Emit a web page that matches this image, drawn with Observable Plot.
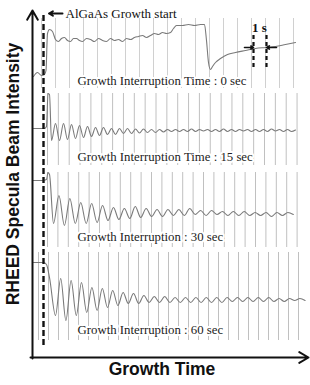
<!DOCTYPE html>
<html>
<head>
<meta charset="utf-8">
<script src="https://cdn.jsdelivr.net/npm/d3@7"></script>
<script src="https://cdn.jsdelivr.net/npm/@observablehq/plot@0.6"></script>
<style>
  html, body { margin: 0; padding: 0; background: #fff; }
  #chart svg { display: block; }
</style>
</head>
<body>
<div id="chart"></div>
<script>
// ---- Data (time in s from AlGaAs growth start, intensity in arbitrary stacked units) ----
const yLabel = "RHEED Specula Beam Intensity";
const xLabel = "Growth Time";
const startLabel = "AlGaAs Growth start";
const panelLabels = [
  "Growth Interruption Time : 0 sec",
  "Growth Interruption Time : 15 sec",
  "Growth Interruption : 30 sec",
  "Growth Interruption : 60 sec"
];

// Panel 1 (0 s interruption): irregular trace [t, intensity]
const p1Trace = [[-1.0,28.1],[-0.6,28.5],[-0.2,28.2],[0.1,28.3],[0.25,28.7],[0.4,32.4],[0.6,32.8],[0.9,32.6],[1.2,31.8],[1.5,31.6],[1.8,31.9],[2.1,32.0],[2.4,31.7],[2.7,31.6],[3.0,31.9],[3.3,31.9],[3.6,31.7],[3.9,31.6],[4.3,31.9],[4.7,31.8],[5.1,31.6],[5.5,31.9],[5.9,31.7],[6.3,31.6],[6.7,31.9],[7.1,31.7],[7.5,31.8],[7.9,31.6],[8.3,31.9],[8.7,31.8],[9.1,32.0],[9.5,32.1],[9.9,32.2],[10.3,32.0],[10.7,32.2],[11.1,32.4],[11.5,32.3],[11.9,32.5],[12.3,32.4],[12.7,32.5],[13.0,32.9],[13.3,33.2],[13.9,33.2],[14.5,33.3],[15.1,33.2],[15.7,33.3],[16.1,33.3],[16.3,31.7],[16.5,29.5],[16.7,28.8],[16.9,29.1],[17.2,29.5],[17.7,29.9],[18.4,30.3],[19.2,30.5],[20.2,30.7],[21.2,30.9],[22.2,31.0],[23.2,31.1],[24.2,31.3],[25.2,31.5]];

// Panels 2-4: lead-in [t, intensity] then oscillation extrema sampled every half period
const p2Lead = [[-1.0,22.9],[0.1,22.9],[0.3,23.1],[0.45,26.4],[0.6,26.3]];
const p2Osc = [21.7,23.4,21.7,23.4,21.8,23.3,21.9,23.2,22.0,23.1,22.1,23.0,22.2,23.0,22.3,22.9,22.3,22.9,22.4,22.9,22.4,22.85,22.45,22.85,22.5,22.8,22.5,22.8,22.55,22.8,
  22.6,22.8,22.6,22.8,22.6,22.85,22.6,22.8,22.65,22.8,22.6,22.8,22.6,22.85,22.6,22.8,22.6,22.8,22.65,22.8,22.6,22.8,22.6,22.8,22.6,22.85,22.65,22.8,22.6,22.8,22.6,22.75];
const p3Lead = [[-1.1,17.7],[-0.1,17.7],[0.3,17.8],[0.45,18.5],[0.6,18.3]];
const p3Osc = [13.4,16.2,13.2,15.9,13.4,15.5,13.4,15.4,13.5,15.2,13.7,15.0,13.8,14.9,13.9,15.1,14.0,14.9,14.1,14.8,14.1,14.8,14.2,14.8,14.2,14.9,14.3,14.7,14.2,14.7,14.3,14.6,14.2,14.6,14.2,14.6,14.2,14.5,14.2,14.5,14.1,14.5,14.2,14.5,14.3];
const p4Lead = [[-1.0,9.5],[0.0,9.5],[0.3,9.3],[0.6,8.0]];
const p4Osc = [4.2,7.9,3.7,7.7,4.2,7.5,4.5,7.0,4.7,6.9,5.0,6.7,5.2,6.5,5.4,6.4,5.4,6.2,5.5,6.1,5.5,6.1,5.5,6.0,5.5,6.0,5.5,6.0,5.5,6.0,5.5,6.0,5.5,6.0,5.6,6.0,5.6,6.0,5.6,6.0,5.6,6.0,5.6,5.9,5.6,5.9,5.7,5.9,5.7];

// oscillation sampling: [first extremum time, half period]
const oscTiming = [[0.8, 0.4], [1.0, 0.545], [1.2, 0.52]];

// chart-paper grid per panel: [first line, spacing, count, bottom, top]
const gridSpec = [
  [-0.2, 1.4, 19, 26.9, 33.9],
  [0.4, 1.085, 24, 19.2, 26.4],
  [0.4, 1.04, 25, 11.0, 18.5],
  [-0.5, 1.0, 27, 1.7, 10.5]
];
const panelLabelY = [27.7, 20.1, 12.1, 2.8];

// ---- Build ----
const xDomain = [-1.1, 26.4];
const yDomain = [0, 34.5];

function osc(lead, vals, [t0, dt]) {
  return lead.map(([t, v]) => ({t, v})).concat(vals.map((v, i) => ({t: t0 + i * dt, v})));
}
const traces = [
  p1Trace.map(([t, v]) => ({t, v})),
  osc(p2Lead, p2Osc, oscTiming[0]),
  osc(p3Lead, p3Osc, oscTiming[1]),
  osc(p4Lead, p4Osc, oscTiming[2])
];
const grid = gridSpec.flatMap(([t0, dt, n, lo, hi], p) =>
  d3.range(n).map(i => ({t: t0 + i * dt, lo, hi, p})));

const serif = "'Liberation Serif', 'Times New Roman', serif";
const sans = "'Liberation Sans', Arial, sans-serif";

const chart = Plot.plot({
  width: 310,
  height: 385,
  marginLeft: 32,
  marginRight: 3,
  marginTop: 12,
  marginBottom: 28,
  x: {domain: xDomain, axis: null},
  y: {domain: yDomain, axis: null},
  marks: [
    // chart paper grid
    Plot.ruleX(grid, {x: "t", y1: "lo", y2: "hi", stroke: d => d.p === 0 ? "#d0d0d0" : "#c0c0c0", strokeWidth: 1}),
    // traces
    ...traces.map(tr => Plot.line(tr, {x: "t", y: "v", stroke: "#7a7a7a", strokeWidth: 1.1, curve: "monotone-x"})),
    // growth start dashed line
    Plot.ruleX([0], {y1: 1.2, y2: 34.4, stroke: "#111", strokeWidth: 2.4, strokeDasharray: "6,3"}),
    // "1 s" marker
    Plot.ruleX([21.0, 22.3], {y1: 29.0, y2: 32.2, stroke: "#111", strokeWidth: 2.2, strokeDasharray: "4,3"}),
    Plot.arrow([{x1: 20.1, x2: 21.0}, {x1: 23.3, x2: 22.3}], {x1: "x1", x2: "x2", y1: () => 31.0, y2: () => 31.0, stroke: "#111", strokeWidth: 1.6, headLength: 5}),
    Plot.text(["1 s"], {x: 21.6, y: 33.0, fontFamily: serif, fontWeight: "bold", fontSize: 13, fill: "#111"}),
    // growth start annotation
    Plot.arrow([startLabel], {x1: 1.9, x2: 0.55, y1: 34.4, y2: 34.4, stroke: "#111", strokeWidth: 2, headLength: 6}),
    Plot.text([startLabel], {x: 2.2, y: 34.4, textAnchor: "start", fontFamily: serif, fontSize: 13, fill: "#111"}),
    // panel labels
    Plot.text(panelLabels, {x: 3.4, y: (d, i) => panelLabelY[i], textAnchor: "start", fontFamily: serif, fontSize: 12.8, fill: "#222", stroke: "white", strokeWidth: 4}),
    // axes with arrows
    Plot.arrow([yLabel], {x1: xDomain[0], x2: xDomain[0], y1: -0.1, y2: 34.7, stroke: "#111", strokeWidth: 2, headLength: 8}),
    Plot.arrow([xLabel], {x1: -1.3, x2: 26.5, y1: 0, y2: 0, stroke: "#111", strokeWidth: 2, headLength: 8}),
    Plot.text([yLabel], {frameAnchor: "left", textAnchor: "middle", rotate: -90, dx: -19, dy: -11, fontFamily: sans, fontWeight: "bold", fontSize: 17.5, fill: "#111"}),
    Plot.text([xLabel], {frameAnchor: "bottom", textAnchor: "middle", dx: -8, dy: 17, fontFamily: sans, fontWeight: "bold", fontSize: 17.5, fill: "#111"})
  ]
});
document.getElementById("chart").appendChild(chart);
</script>
</body>
</html>
